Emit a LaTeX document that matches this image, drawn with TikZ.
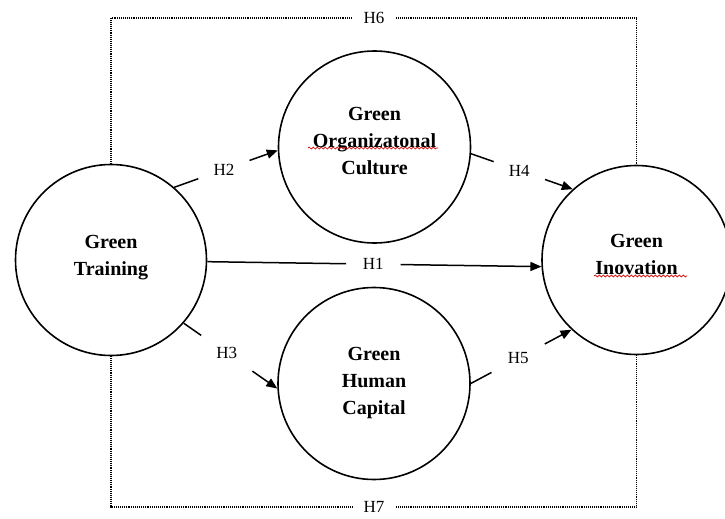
\documentclass[tikz,border=0pt]{standalone}
\usepackage{fontspec}
\setmainfont{Liberation Serif}
\usetikzlibrary{arrows.meta,decorations.pathmorphing}
\begin{document}
\begin{tikzpicture}[x=1pt,y=-1pt,
  circ/.style={circle,draw,line width=1.6pt,inner sep=0pt},
  ctext/.style={align=center,font=\fontsize{20}{27}\selectfont\bfseries,inner sep=0pt},
  hlab/.style={circle,minimum size=54pt,inner sep=0pt,font=\fontsize{17}{20}\selectfont},
  flab/.style={minimum width=44pt,inner sep=0pt,font=\fontsize{17}{20}\selectfont},
  conn/.style={line width=1.5pt},
  arr/.style={conn,-{Triangle[length=11pt,width=9pt]}},
  frame/.style={line width=1.3pt,dash pattern=on 1pt off 0.9pt},
  spell/.style={red!85!black,line width=0.7pt,decorate,decoration={snake,amplitude=1pt,segment length=4pt}}]
\useasboundingbox (0,0) rectangle (725,519);

% circles
\node[circ,minimum size=191pt] (gt)  at (111,260)   {};
\node[circ,minimum size=192pt] (goc) at (374.5,147) {};
\node[circ,minimum size=192pt] (ghc) at (374,383.5) {};
\node[circ,minimum size=189pt] (gi)  at (636.5,260) {};

% texts
\node[ctext] (gtt)  at ([yshift=2pt]gt.center)   {Green\\Training};
\node[ctext] (goct) at ([yshift=6pt]goc.center)  {Green\\Organizatonal\\Culture};
\node[ctext] (ghct) at (ghc.center)              {Green\\Human\\Capital};
\node[ctext] (git)  at ([yshift=5.5pt]gi.center) {Green\\Inovation};

% spell-check underlines
\draw[spell] (308,148) -- (438,148);
\draw[spell] (594,276) -- (687,276);

% H1
\path (gt.-1.2) -- node[hlab,pos=0.497] (h1) {H1} (gi.184.9);
\draw[conn] (gt.-1.2) -- (h1);
\draw[arr] (h1) -- (gi.184.9);

% H2
\path (gt.49) -- node[hlab,pos=0.48] (h2) {H2} (goc.182);
\draw[conn] (gt.49) -- (h2);
\draw[arr] (h2) -- (goc.182);

% H3
\path (gt.-41.6) -- node[hlab,minimum size=62pt,pos=0.46] (h3) {H3} (ghc.183.2);
\draw[conn] (gt.-41.6) -- (h3);
\draw[arr] (h3) -- (ghc.183.2);

% H4
\path (goc.-4.7) -- node[hlab,minimum size=54pt,pos=0.475] (h4) {H4} (gi.132.4);
\draw[conn] (goc.-4.7) -- (h4);
\draw[arr] (h4) -- (gi.132.4);

% H5
\path (ghc.0) -- node[hlab,minimum size=60pt,pos=0.47] (h5) {H5} (gi.227);
\draw[conn] (ghc.0) -- (h5);
\draw[arr] (h5) -- (gi.227);

% dotted frame
\node[flab] (h6) at (374,18)  {H6};
\node[flab] (h7) at (374,507) {H7};
\draw[frame] (gt.north) -- (gt.north |- h6) -- (h6.west);
\draw[frame] (h6.east) -- (h6 -| gi.north) -- (gi.north);
\draw[frame] (gt.south) -- (gt.south |- h7) -- (h7.west);
\draw[frame] (h7.east) -- (h7 -| gi.south) -- (gi.south);
\end{tikzpicture}
\end{document}
